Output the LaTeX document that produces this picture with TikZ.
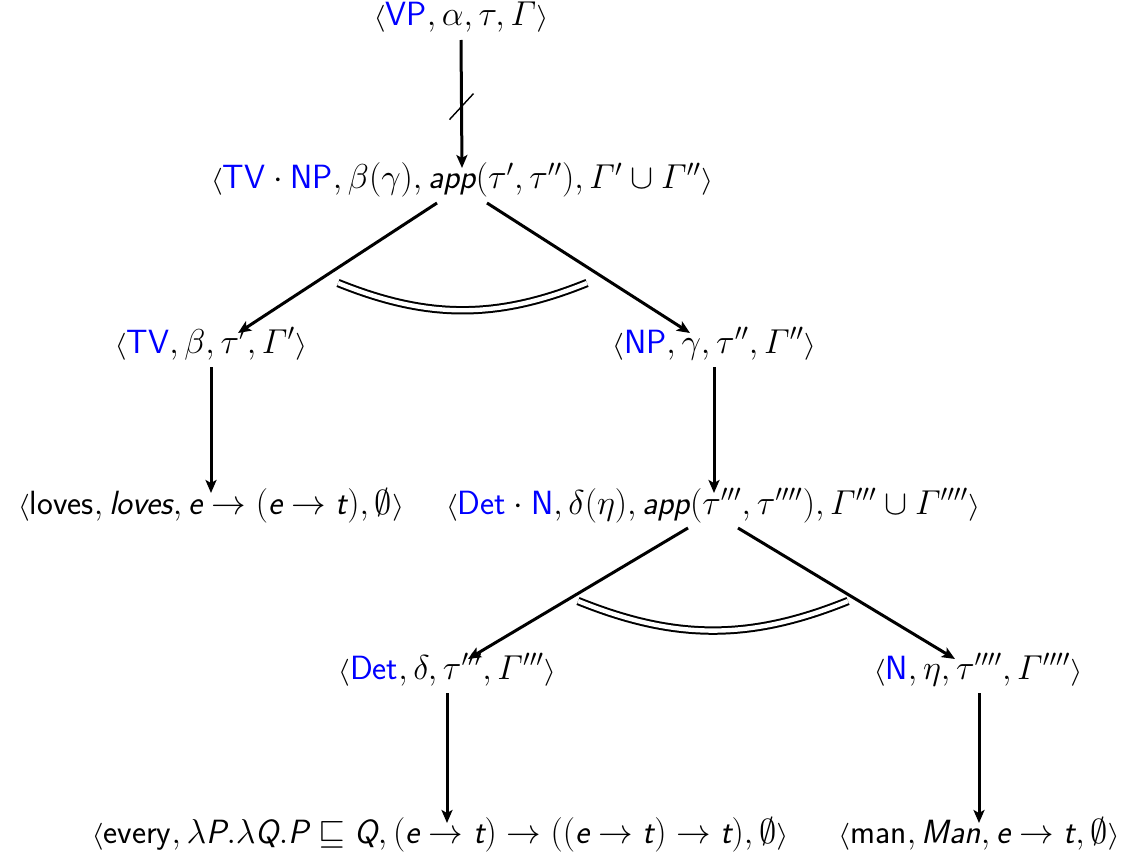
\documentclass[tikz,border=0pt]{standalone}
\usepackage{amsmath,amssymb,graphicx}
\renewcommand{\familydefault}{\sfdefault}
\usetikzlibrary{calc,arrows.meta}
\newcommand{\cat}[1]{\textcolor{blue}{\textsf{#1}}}
\newcommand{\si}[1]{\textsf{\itshape #1}}
\newcommand{\la}{\mathopen{\scalebox{0.9}[0.78]{$\langle$}}}
\newcommand{\ra}{\mathclose{\scalebox{0.9}[0.78]{$\rangle$}}}
\tikzset{
  lab/.style={anchor=base, inner sep=0pt, font=\fontsize{16.8}{20}\selectfont\sffamily},
  arr/.style={-{Stealth[length=6.5pt,width=5.5pt,inset=1.5pt]}, line width=1.5pt},
  dbl/.style={double, double distance=2.2pt, line width=1pt},
}
\begin{document}
\begin{tikzpicture}[x=0.5pt,y=-0.5pt]
\useasboundingbox (0,0) rectangle (1126,856);
\node[lab] (vp) at (461,26) {$\la\cat{VP}, \alpha, \tau, \varGamma\ra$};
\node[lab] (tvnp) at (462,189) {$\la\cat{TV}\cdot\cat{NP}, \beta(\gamma), \si{app}(\tau', \tau''), \varGamma'\cup\varGamma''\ra$};
\node[lab] (tv) at (211,353) {$\la\cat{TV}, \beta, \tau', \varGamma'\ra$};
\node[lab] (np) at (714,353) {$\la\cat{NP}, \gamma, \tau'', \varGamma''\ra$};
\node[lab] (loves) at (211,514) {$\la\textsf{loves}, \si{loves}, \si{e}\to(\si{e}\to\si{t}), \emptyset\ra$};
\node[lab] (detn) at (713,514) {$\la\cat{Det}\cdot\cat{N}, \delta(\eta), \si{app}(\tau''', \tau''''), \varGamma'''\cup\varGamma''''\ra$};
\node[lab] (det) at (447,679) {$\la\cat{Det}, \delta, \tau''', \varGamma'''\ra$};
\node[lab] (n) at (978,679) {$\la\cat{N}, \eta, \tau'''', \varGamma''''\ra$};
\node[lab] (every) at (440,843) {$\la\textsf{every}, \lambda\si{P}.\lambda\si{Q}.\si{P}\sqsubseteq\si{Q}, (\si{e}\to\si{t})\to((\si{e}\to\si{t})\to\si{t}), \emptyset\ra$};
\node[lab] (man) at (979,843) {$\la\textsf{man}, \si{Man}, \si{e}\to\si{t}, \emptyset\ra$};

% VP -> TV.NP with slash
\draw[arr] ($(vp.base)+(0,14)$) -- coordinate[pos=0.52] (m) ($(tvnp.base)+(0,-21)$);
\draw[line width=0.7pt] ($(m)+(-12,13)$) -- ($(m)+(12,-13)$);

% TV.NP -> TV, NP
\draw[arr] ($(tvnp.base)+(-25,14)$) -- ($(tv.base)+(27,-20)$);
\draw[arr] ($(tvnp.base)+(25,14)$) -- ($(np.base)+(-24,-20)$);
\draw[dbl] (338,283) to[bend right=22] (587,283);

\draw[arr] ($(tv.base)+(0,14)$) -- (tv.base |- 0,493);
\draw[arr] ($(np.base)+(0,14)$) -- (np.base |- 0,493);

% Det.N -> Det, N
\draw[arr] ($(detn.base)+(-25,14)$) -- ($(det.base)+(21,-20)$);
\draw[arr] ($(detn.base)+(25,14)$) -- ($(n.base)+(-23,-20)$);
\draw[dbl] (578,601) to[bend right=22] (848,601);

\draw[arr] ($(det.base)+(0,14)$) -- (det.base |- 0,823);
\draw[arr] ($(n.base)+(1,14)$) -- ($(n.base |- 0,823)+(1,0)$);
\end{tikzpicture}
\end{document}
